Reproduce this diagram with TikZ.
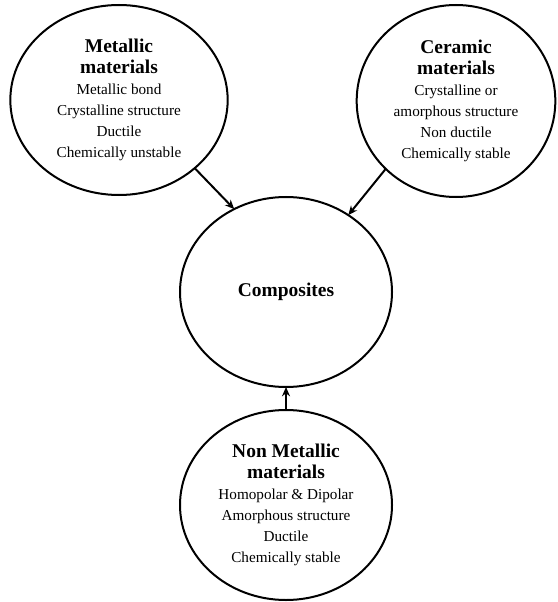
\documentclass[tikz,border=0pt]{standalone}
\usepackage{fontspec}
\setmainfont{Liberation Serif}
\usetikzlibrary{shapes.geometric,arrows.meta}
\newcommand{\hd}{\fontsize{14.6}{17.5}\selectfont\bfseries}
\newcommand{\bd}{\fontsize{11.4}{15.8}\selectfont}
\tikzset{
  blob/.style={draw=black, line width=1.5pt, ellipse, inner sep=0pt, outer sep=0pt,
    minimum width=159pt, minimum height=142.5pt, align=center, font=\bd},
  link/.style={line width=1.5pt, -{Stealth[length=7pt,width=6pt]}}
}
\begin{document}
\begin{tikzpicture}[x=0.75pt,y=-0.75pt]
\useasboundingbox (0,0) rectangle (557,602);
\node[blob, minimum width=163pt] (tl) at (119,100)
  {{\hd Metallic}\\{\hd materials}\\Metallic bond\\Crystalline structure\\Ductile\\Chemically unstable};
\node[blob, minimum width=149pt, minimum height=144pt] (tr) at (456,101)
  {{\hd Ceramic}\\{\hd materials}\\Crystalline or\\amorphous structure\\Non ductile\\Chemically stable};
\node[blob] (c) at (286,292) {\hd Composites};
\node[blob] (b) at (286,505)
  {{\hd Non Metallic}\\{\hd materials}\\Homopolar \& Dipolar\\Amorphous structure\\Ductile\\Chemically stable};
\draw[link] (tl.-42) -- (c.122);
\draw[link] (tr.-136.6) -- (c.51.6);
\draw[link] (b.90) -- (c.270);
\end{tikzpicture}
\end{document}
